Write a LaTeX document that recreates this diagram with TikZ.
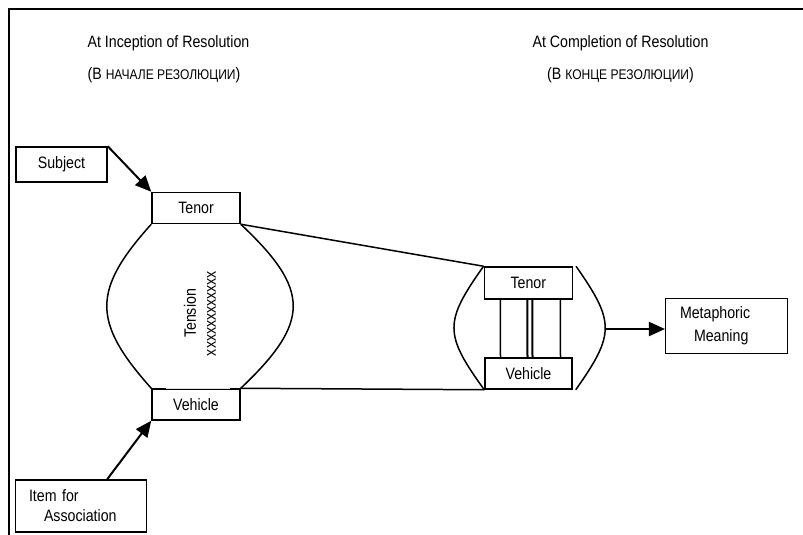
\documentclass[tikz,border=0pt]{standalone}
\usepackage{fontspec}
\setmainfont{Liberation Sans}[FakeStretch=0.86]
\usetikzlibrary{arrows.meta}
\begin{document}
\begin{tikzpicture}[x=1pt,y=-1pt,
  font=\fontsize{16.5}{20}\selectfont,
  box/.style={draw, line width=1.5pt, fill=white, inner sep=0pt},
  curve/.style={line width=1.5pt},
  arr/.style={line width=2pt, -{Triangle[length=16pt,width=14pt]}},
  title/.style={anchor=base, inner sep=0pt}]
\useasboundingbox (0,0) rectangle (803,535);

% outer frame (open at right and bottom)
\draw[line width=2pt] (9,537) -- (9,9.5) -- (806,9.5);

% headings
\node[title] (h1) at (168.5,48) {At Inception of Resolution};
\node[title] (h1r) at (164,80) {(В {\fontsize{14}{16}\selectfont НАЧАЛЕ РЕЗОЛЮЦИИ})};
\node[title] (h2) at (620.5,48) {At Completion of Resolution};
\node[title] (h2r) at (620.5,80) {(В {\fontsize{14}{16}\selectfont КОНЦЕ РЕЗОЛЮЦИИ})};

% left group: tenor, vehicle and the tension lens between them
\node[box, minimum width=91pt, minimum height=35pt] (subj) at (61.5,164.5) {Subject};
\node[box, minimum width=88pt, minimum height=31pt] (tenL) at (196,208) {Tenor};
\node[box, minimum width=88pt, minimum height=31pt] (vehL) at (196,404.5) {Vehicle};
\draw[gray!25, line width=1.5pt] ([xshift=15pt]vehL.north west) -- ([xshift=-11pt]vehL.north east);
\node[box, minimum width=131pt, minimum height=52pt, text width=104.4pt,
      inner xsep=13.3pt, align=left] (item) at (81.2,506)
      {Item for\\\hspace*{15pt}Association};

\draw[curve] (tenL.south west) .. controls (92,290) and (92,322) .. (vehL.north west);
\draw[curve] (tenL.south east) .. controls (310.7,290) and (310.7,322) .. (vehL.north east);
\node[rotate=90, align=center, inner sep=0pt] (tension) at (200,313.5) {Tension\\xxxxxxxxxxxx};

\draw[arr] (subj.north east) -- (tenL.north west);
\draw[arr] ([xshift=26pt]item.north) -- (vehL.south west);

% right group: tenor and vehicle bound together
\node[box, minimum width=88pt, minimum height=32pt] (tenR) at (528.3,283) {Tenor};
\node[box, minimum width=87pt, minimum height=31pt] (vehR) at (528.5,373.5) {Vehicle};
\draw[curve] (tenR.north west) .. controls (444,322) and (444,334) .. (vehR.south west);
\draw[curve] ([xshift=3pt]tenR.north east) .. controls (615,322) and (615,334) .. ([xshift=3pt]vehR.south east);
\coordinate (lensR) at (605,329);

\draw[line width=1.5pt] ([xshift=-28pt]tenR.south) -- ([xshift=-28pt]vehR.north);
\draw[line width=2pt] ([xshift=-1pt]tenR.south) -- ([xshift=-1pt]vehR.north);
\draw[line width=2pt] ([xshift=4pt]tenR.south) -- ([xshift=4pt]vehR.north);
\draw[line width=1.5pt] ([xshift=32pt]tenR.south) -- ([xshift=32pt]vehR.north);

% links between the two stages
\draw[line width=1.5pt] (tenL.south east) -- (tenR.north west);
\draw[line width=1.5pt] (vehL.north east) -- (vehR.south west);

% outcome
\node[box, minimum width=121.6pt, minimum height=55pt, text width=93pt,
      inner xsep=14.3pt, align=left, font=\fontsize{16.5}{22.5}\selectfont] (meta) at (726.5,325.8)
      {Metaphoric\\\hspace*{14pt}Meaning};
\draw[arr] (lensR) -- (lensR -| meta.west);
\end{tikzpicture}
\end{document}
